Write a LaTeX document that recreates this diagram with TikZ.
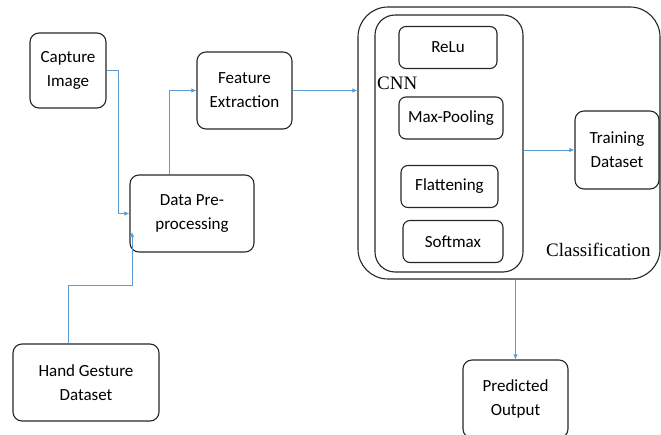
\documentclass[tikz,border=0pt]{standalone}
\usepackage{fontspec}
\setmainfont{Carlito}
\newfontfamily\labfont{Liberation Serif}
\usetikzlibrary{arrows.meta}
\definecolor{lineblue}{RGB}{91,155,213}
\tikzset{
	box/.style={draw=black!85, line width=1.1pt, rounded corners=9pt, align=center, inner sep=0pt,
		font=\fontsize{17}{24}\selectfont},
	arr/.style={draw=lineblue, line width=0.9pt, -{Latex[length=5pt,width=4.5pt]}}
}
\begin{document}
\begin{tikzpicture}[x=1pt, y=-1pt, line join=round, >=stealth]
				\useasboundingbox (0,0) rectangle (661,435);
				\node[box, rounded corners=30pt, minimum width=302pt, minimum height=272pt] (cls) at (509,143) {};
				\node[box, rounded corners=20pt, minimum width=148pt, minimum height=257pt] (cnn) at (449,143.5) {};
				\node[box, minimum width=76pt, minimum height=75pt] (cap) at (68,70.5) {Capture\\Image};
				\node[box, minimum width=95pt, minimum height=77pt] (feat) at (244.5,90.5) {Feature\\Extraction};
				\node[box, minimum width=124pt, minimum height=77pt] (pre) at (192,213.5) {Data Pre-\\processing};
				\node[box, minimum width=146pt, minimum height=77pt] (hand) at (86,382.5) {Hand Gesture\\Dataset};
				\node[box, fill=white, minimum width=84pt, minimum height=78pt] (train) at (617,150) {Training\\Dataset};
				\node[box, minimum width=105pt, minimum height=78pt] (pred) at (515.5,399) {Predicted\\Output};
				\foreach \nm/\cx/\cy/\w/\txt in {relu/448/47.5/98/ReLu, maxp/451/118/104/Max-Pooling, flat/449.5/186.5/97/Flattening, soft/453/241.5/100/Softmax}
					\node[box, rounded corners=7pt, minimum width=\w pt, minimum height=42pt] (\nm) at (\cx,\cy) {\txt};
				\node[anchor=west, inner sep=0pt, font=\labfont\fontsize{19}{22}\selectfont] (cnnlab) at (377,83) {CNN};
				\node[anchor=west, inner sep=0pt, font=\labfont\fontsize{19}{22}\selectfont] (clslab) at (546,250) {Classification};
				\coordinate (hin) at (132,232);
				\draw[arr] (cap.east) -- ++(12,0) |- (pre.west);
				\draw[arr] ([xshift=-18pt]hand.north) -- ++(0,-58) -| (hin);
				\draw[arr] ([xshift=-23pt]pre.north) |- (feat.west);
				\draw[arr] (feat.east) -- (feat.east -| cls.west);
				\draw[arr] (cnn.east |- train.west) -- (train.west);
				\draw[arr] (cls.south -| pred.north) -- (pred.north);
			\end{tikzpicture}
\end{document}
